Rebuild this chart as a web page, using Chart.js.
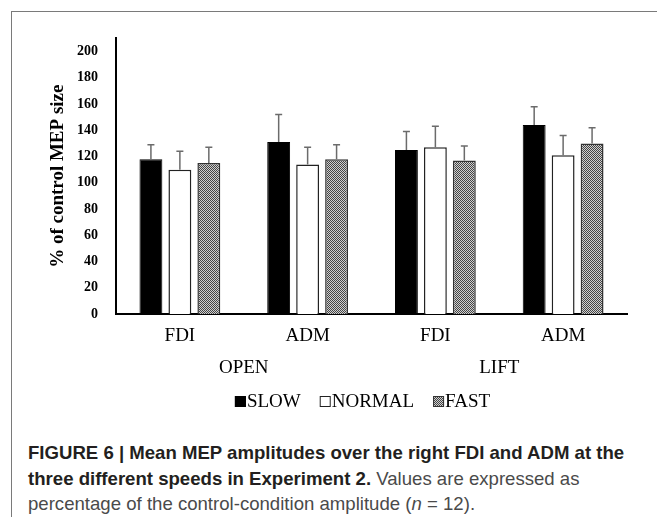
<!DOCTYPE html>
<html>
<head>
<meta charset="utf-8">
<script src="https://cdn.jsdelivr.net/npm/chart.js@4/dist/chart.umd.min.js"></script>
<style>
  html, body { margin: 0; padding: 0; background: #fff; }
  body { width: 657px; height: 517px; position: relative; overflow: hidden; }
  #frame { position: absolute; left: 11px; top: 11px; width: 660px; height: 520px;
           border-top: 1px solid #7a7a7a; border-left: 1px solid #7a7a7a; }
  #wrap { position: absolute; left: 12px; top: 12px; width: 645px; height: 405px; }
  .cap { position: absolute; left: 28px; top: 440px; width: 629px;
         font-family: "Liberation Sans", Arial, sans-serif; font-size: 18.6px; line-height: 25.5px;
         color: #4a4a4a; white-space: nowrap; }
  .cap b { color: #231f20; }
</style>
</head>
<body>
<div id="frame"></div>
<div id="wrap"><canvas id="c"></canvas></div>
<div class="cap"><b>FIGURE 6 | Mean MEP amplitudes over the right FDI and ADM at the<br>three different speeds in Experiment 2.</b> Values are expressed as<br>percentage of the control-condition amplitude (<i>n</i> = 12).</div>
<script>
const categories = ['FDI', 'ADM', 'FDI', 'ADM'];
const groups = ['OPEN', 'LIFT'];
const seriesNames = ['SLOW', 'NORMAL', 'FAST'];
const slow = [118, 131, 125, 144];
const normal = [110, 114, 127, 121];
const fast = [115, 118, 117, 130];
const slowErr = [11, 21, 14, 14];
const normalErr = [14, 13, 16, 15];
const fastErr = [12, 11, 11, 12];
const yTicks = [0, 20, 40, 60, 80, 100, 120, 140, 160, 180, 200];

function makePattern() {
  const p = document.createElement('canvas');
  p.width = 2; p.height = 2;
  const g = p.getContext('2d');
  g.fillStyle = '#d0d0d0'; g.fillRect(0, 0, 2, 2);
  g.fillStyle = '#454545'; g.fillRect(0, 0, 1, 1); g.fillRect(1, 1, 1, 1);
  return document.getElementById('c').getContext('2d').createPattern(p, 'repeat');
}
const fastFill = makePattern();

const serif = '"Liberation Serif", "Times New Roman", serif';

const errorBars = {
  id: 'errorBars',
  afterDatasetsDraw(chart) {
    const ctx = chart.ctx, y = chart.scales.y;
    chart.data.datasets.forEach((ds, i) => {
      const meta = chart.getDatasetMeta(i);
      meta.data.forEach((bar, j) => {
        const top = y.getPixelForValue(ds.data[j] + ds.errors[j]);
        ctx.save();
        ctx.strokeStyle = '#6b6b6b';
        ctx.lineWidth = 1.5;
        ctx.beginPath();
        ctx.moveTo(bar.x, bar.y);
        ctx.lineTo(bar.x, top);
        ctx.moveTo(bar.x - 3.5, top);
        ctx.lineTo(bar.x + 3.5, top);
        ctx.stroke();
        ctx.restore();
      });
    });
  }
};

// Compact legend: key box sits right against its label, as in the reference
const compactLegend = {
  id: 'compactLegend',
  afterDraw(chart) {
    const ctx = chart.ctx, area = chart.chartArea;
    const box = 11, gapBoxText = 1, gapItems = 19;
    ctx.save();
    ctx.font = '19px ' + serif;
    const items = chart.data.datasets.map(ds => ({ ds, w: ctx.measureText(ds.label).width }));
    const total = items.reduce((s, it) => s + box + gapBoxText + it.w, 0) + gapItems * (items.length - 1);
    let x = (area.left + area.right) / 2 - 9 - total / 2;
    const base = area.bottom + 93;
    items.forEach(it => {
      ctx.fillStyle = it.ds.backgroundColor;
      ctx.fillRect(x, base - box, box, box);
      ctx.strokeStyle = it.ds.borderColor;
      ctx.lineWidth = 1;
      ctx.strokeRect(x + 0.5, base - box + 0.5, box - 1, box - 1);
      x += box + gapBoxText;
      ctx.fillStyle = '#000';
      ctx.textBaseline = 'alphabetic';
      ctx.textAlign = 'left';
      ctx.fillText(it.ds.label, x, base);
      x += it.w + gapItems;
    });
    ctx.restore();
  }
};

new Chart(document.getElementById('c'), {
  type: 'bar',
  data: {
    labels: categories,
    datasets: [
      { label: seriesNames[0], data: slow, errors: slowErr, backgroundColor: '#000', borderColor: '#000', borderWidth: 1 },
      { label: seriesNames[1], data: normal, errors: normalErr, backgroundColor: '#fff', borderColor: '#222', borderWidth: 1.5 },
      { label: seriesNames[2], data: fast, errors: fastErr, backgroundColor: fastFill, borderColor: '#333', borderWidth: 1.5 }
    ]
  },
  options: {
    responsive: true,
    maintainAspectRatio: false,
    animation: false,
    layout: { padding: { top: 20, right: 30, left: 0, bottom: 39 } },
    datasets: { bar: { categoryPercentage: 0.68, barPercentage: 0.79 } },
    plugins: {
      tooltip: { enabled: false },
      legend: { display: false }
    },
    scales: {
      x: {
        type: 'category',
        labels: categories,
        afterFit(s) { s.height = 34; },
        grid: { display: false, drawTicks: false },
        border: { color: '#000', width: 2 },
        ticks: { color: '#000', font: { family: serif, size: 19 }, padding: 11 }
      },
      x2: {
        type: 'category',
        labels: groups,
        position: 'bottom',
        afterFit(s) { s.height = 30; },
        grid: { display: false, drawTicks: false },
        border: { display: false },
        ticks: { color: '#000', font: { family: serif, size: 19 }, padding: 8.6 }
      },
      y: {
        min: 0, max: 210,
        afterFit(s) { s.width = 104; },
        afterBuildTicks(s) { s.ticks = yTicks.map(v => ({ value: v })); },
        grid: { display: false, drawTicks: false },
        border: { color: '#000', width: 2 },
        ticks: { color: '#000', font: { family: serif, size: 14, weight: 'bold' }, padding: 18 },
        title: {
          display: true, text: '% of control MEP size', color: '#000',
          font: { family: serif, size: 19, weight: 'bold' },
          padding: { top: 35, bottom: 0 }
        }
      }
    }
  },
  plugins: [errorBars, compactLegend]
});
</script>
</body>
</html>
